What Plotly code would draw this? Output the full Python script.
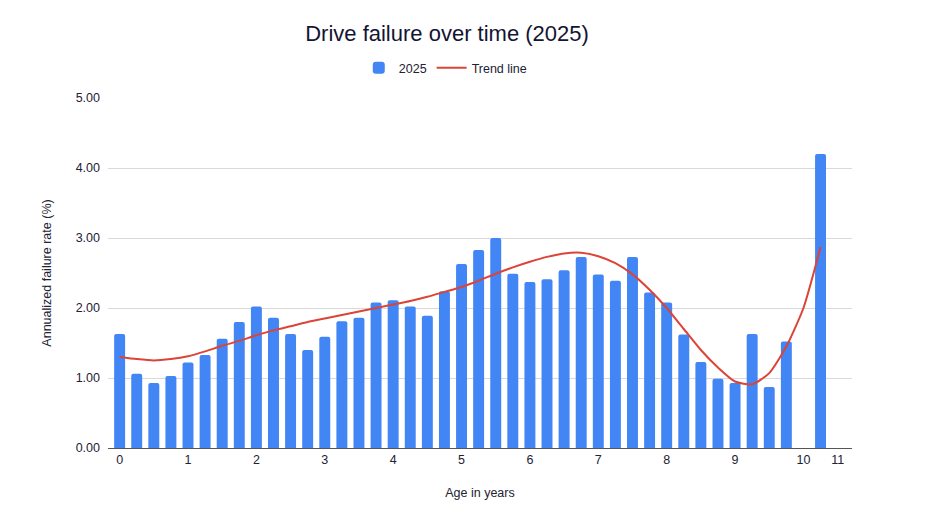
import plotly.graph_objects as go

# Age (years) of each bar
ages = [0, 0.25, 0.5, 0.75, 1, 1.25, 1.5, 1.75, 2, 2.25, 2.5, 2.75,
        3, 3.25, 3.5, 3.75, 4, 4.25, 4.5, 4.75, 5, 5.25, 5.5, 5.75,
        6, 6.25, 6.5, 6.75, 7, 7.25, 7.5, 7.75, 8, 8.25, 8.5, 8.75,
        9, 9.25, 9.5, 9.75, 10.25]
afr_2025 = [1.63, 1.06, 0.93, 1.03, 1.22, 1.33, 1.56, 1.80, 2.02, 1.86, 1.63, 1.40,
            1.59, 1.81, 1.86, 2.08, 2.11, 2.02, 1.89, 2.24, 2.63, 2.83, 3.00, 2.49,
            2.37, 2.41, 2.54, 2.73, 2.48, 2.39, 2.73, 2.22, 2.08, 1.62, 1.23, 0.99,
            0.93, 1.63, 0.87, 1.52, 4.20]

trend_ages = [0, 0.25, 0.5, 0.75, 1, 1.25, 1.5, 1.75, 2, 2.25, 2.5, 2.75,
              3, 3.25, 3.5, 3.75, 4, 4.25, 4.5, 4.75, 5, 5.25, 5.5, 5.75,
              6, 6.25, 6.5, 6.75, 7, 7.25, 7.5, 7.75, 8, 8.25, 8.5, 8.75,
              9, 9.25, 9.5, 9.75, 10, 10.25]
trend = [1.30, 1.27, 1.25, 1.27, 1.31, 1.38, 1.46, 1.53, 1.61, 1.68, 1.74, 1.80,
         1.85, 1.90, 1.95, 2.00, 2.05, 2.10, 2.16, 2.23, 2.30, 2.39, 2.49, 2.58,
         2.66, 2.73, 2.78, 2.79, 2.74, 2.64, 2.48, 2.26, 2.00, 1.70, 1.40, 1.15,
         0.95, 0.91, 1.07, 1.45, 2.00, 2.87]

x_tickvals = [0, 1, 2, 3, 4, 5, 6, 7, 8, 9, 10, 10.5]
x_ticktext = ["0", "1", "2", "3", "4", "5", "6", "7", "8", "9", "10", "11"]
y_tickvals = [0, 1, 2, 3, 4, 5]
y_ticktext = ["0.00", "1.00", "2.00", "3.00", "4.00", "5.00"]

FONT = "Liberation Sans, Arial, sans-serif"
TEXT = "#222233"

fig = go.Figure()
fig.add_trace(go.Bar(x=ages, y=afr_2025, name="2025", marker_color="#4285F4",
                     width=0.16, marker_line_width=0))
fig.add_trace(go.Scatter(x=trend_ages, y=trend, name="Trend line", mode="lines",
                         line=dict(color="#DB4437", width=2, shape="spline", smoothing=0.6)))

fig.update_layout(
    width=947, height=522,
    paper_bgcolor="white", plot_bgcolor="white",
    margin=dict(l=100, r=103, t=90, b=82, autoexpand=False),
    font=dict(family=FONT, color=TEXT, size=12),
    title=dict(text="Drive failure over time (2025)", x=0.4636, xanchor="center",
               y=0.952, yanchor="middle",
               font=dict(family=FONT, size=22, color="#141433")),
    legend=dict(orientation="h", x=0.454, xanchor="center", y=1.0857, yanchor="middle",
                font=dict(size=12.5, color=TEXT), itemwidth=30, traceorder="normal"),
    barcornerradius=2,
    showlegend=True,
)
fig.update_xaxes(range=[-0.17, 10.71], tickvals=x_tickvals, ticktext=x_ticktext,
                 showgrid=False, zeroline=False, showline=True, linecolor="#555555",
                 linewidth=1, ticks="", tickfont=dict(size=12.5, color=TEXT),
                 title=dict(text="Age in years", font=dict(size=12.5, color=TEXT), standoff=22))
fig.update_yaxes(range=[0, 5], tickvals=y_tickvals, ticktext=y_ticktext,
                 showgrid=True, gridcolor="#d9d9d9", gridwidth=1, zeroline=False,
                 showline=False, ticks="", ticklabelstandoff=7,
                 tickfont=dict(size=12.5, color=TEXT),
                 title=dict(text="Annualized failure rate (%)", font=dict(size=12.5, color=TEXT),
                            standoff=21))

fig.write_html("out.html")
